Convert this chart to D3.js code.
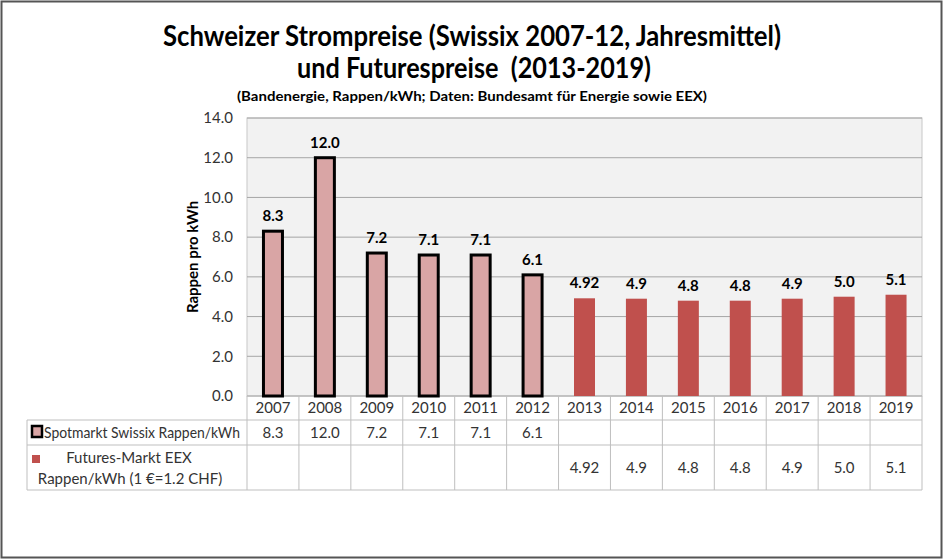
<!DOCTYPE html>
<html><head><meta charset="utf-8">
<script src="https://cdn.jsdelivr.net/npm/d3@7"></script>
<style>
html,body{margin:0;padding:0;background:#fff;}
text{font-family:Lato,"Open Sans",sans-serif;}
</style></head>
<body><svg id="c" width="944" height="560"></svg>
<script>
const years = ["2007","2008","2009","2010","2011","2012","2013","2014","2015","2016","2017","2018","2019"];
const spotValues = [8.3, 12.0, 7.2, 7.1, 7.1, 6.1, null, null, null, null, null, null, null];
const futuresValues = [null, null, null, null, null, null, 4.92, 4.9, 4.8, 4.8, 4.9, 5.0, 5.1];
const yTicks = [0, 2, 4, 6, 8, 10, 12, 14];
const titleLines = ["Schweizer Strompreise (Swissix 2007-12, Jahresmittel)", "und Futurespreise  (2013-2019)"];
const subtitle = "(Bandenergie, Rappen/kWh; Daten: Bundesamt für Energie sowie EEX)";
const yLabel = "Rappen pro kWh";
const seriesNames = ["Spotmarkt Swissix Rappen/kWh", ["Futures-Markt EEX", "Rappen/kWh (1 €=1.2 CHF)"]];

const fmt = v => (Math.round(v*10) === v*10 ? d3.format(".1f")(v) : d3.format(".2f")(v));
const svg = d3.select("#c");
const font = 'Lato,"Open Sans",sans-serif';

// outer frame
svg.append("rect").attr("x",1.5).attr("y",1.5).attr("width",940).attr("height",556)
  .attr("fill","#fff").attr("stroke","#555").attr("stroke-width",2);

const L = 247, R = 922, T = 118, B = 396;
const x = d3.scaleBand().domain(years).range([L, R]).paddingInner(0).paddingOuter(0);
const y = d3.scaleLinear().domain([0, 14]).range([B, T]);

// titles
svg.append("text").attr("x",472).attr("y",46).attr("text-anchor","middle")
  .attr("font-weight","bold").attr("font-size",28).attr("fill","#000")
  .attr("textLength",618).attr("lengthAdjust","spacingAndGlyphs").text(titleLines[0]);
svg.append("text").attr("x",474).attr("y",78).attr("text-anchor","middle")
  .attr("font-weight","bold").attr("font-size",28).attr("fill","#000").style("white-space","pre")
  .attr("textLength",354).attr("lengthAdjust","spacingAndGlyphs").text(titleLines[1]);
svg.append("text").attr("x",472).attr("y",101).attr("text-anchor","middle")
  .attr("font-weight","bold").attr("font-size",14).attr("fill","#000")
  .attr("textLength",470).attr("lengthAdjust","spacingAndGlyphs").text(subtitle);

// plot background
svg.append("rect").attr("x",L).attr("y",T).attr("width",R-L).attr("height",B-T)
  .attr("fill","#f2f2f2").attr("stroke","#c8c8c8");

// gridlines
svg.append("g").selectAll("line").data(yTicks).join("line")
  .attr("x1",L).attr("x2",R).attr("y1",d=>y(d)).attr("y2",d=>y(d))
  .attr("stroke","#a6a6a6").attr("stroke-width",1);

// y axis
const yAxis = d3.axisLeft(y).tickValues(yTicks).tickFormat(d3.format(".1f")).tickSize(0).tickPadding(14);
const ga = svg.append("g").attr("transform",`translate(${L},0)`).call(yAxis);
ga.select(".domain").remove();
ga.selectAll("text").attr("font-size",15).attr("fill","#333").style("font-family",font);

svg.append("text").attr("transform",`translate(198,${(T+B)/2}) rotate(-90)`)
  .attr("text-anchor","middle").attr("font-weight","bold").attr("font-size",15).attr("fill","#000")
  .text(yLabel);

const bw = 19;
// spot bars
const spotData = years.map((yr,i)=>({yr, v: spotValues[i]})).filter(d=>d.v!=null);
svg.append("g").selectAll("rect").data(spotData).join("rect")
  .attr("x",d=>x(d.yr)+x.bandwidth()/2-bw/2).attr("width",bw)
  .attr("y",d=>y(d.v)).attr("height",d=>y(0)-y(d.v))
  .attr("fill","#d9a5a5").attr("stroke","#000").attr("stroke-width",3);
const futData = years.map((yr,i)=>({yr, v: futuresValues[i]})).filter(d=>d.v!=null);
svg.append("g").selectAll("rect").data(futData).join("rect")
  .attr("x",d=>x(d.yr)+x.bandwidth()/2-21/2).attr("width",21)
  .attr("y",d=>y(d.v)).attr("height",d=>y(0)-y(d.v))
  .attr("fill","#c0504d");

// value labels
svg.append("g").selectAll("text").data(spotData.concat(futData)).join("text")
  .attr("x",d=>x(d.yr)+x.bandwidth()/2).attr("y",d=>y(d.v)-10)
  .attr("text-anchor","middle").attr("font-weight","bold").attr("font-size",15).attr("fill","#000")
  .text(d=>fmt(d.v));

// table
const gc = "#bfbfbf";
const tL = 27, r0 = B, r1 = 420, r2 = 445, r3 = 490;
const tg = svg.append("g");
tg.append("line").attr("x1",tL).attr("x2",R).attr("y1",r1).attr("y2",r1).attr("stroke",gc);
tg.append("line").attr("x1",tL).attr("x2",R).attr("y1",r2).attr("y2",r2).attr("stroke",gc);
tg.append("line").attr("x1",tL).attr("x2",R).attr("y1",r3).attr("y2",r3).attr("stroke",gc);
const vx = years.map(d=>x(d)).concat([R]);
tg.selectAll("line.v").data(vx).join("line").attr("class","v")
  .attr("x1",d=>d).attr("x2",d=>d).attr("y1",r0).attr("y2",r3).attr("stroke",gc);
tg.append("line").attr("x1",tL).attr("x2",tL).attr("y1",r1).attr("y2",r3).attr("stroke",gc);

tg.selectAll("text.yr").data(years).join("text").attr("class","yr")
  .attr("x",d=>x(d)+x.bandwidth()/2).attr("y",413).attr("text-anchor","middle")
  .attr("font-size",15).attr("fill","#333").text(d=>d);
tg.selectAll("text.sv").data(spotData).join("text").attr("class","sv")
  .attr("x",d=>x(d.yr)+x.bandwidth()/2).attr("y",438).attr("text-anchor","middle")
  .attr("font-size",15).attr("fill","#333").text(d=>fmt(d.v));
tg.selectAll("text.fv").data(futData).join("text").attr("class","fv")
  .attr("x",d=>x(d.yr)+x.bandwidth()/2).attr("y",473).attr("text-anchor","middle")
  .attr("font-size",15).attr("fill","#333").text(d=>fmt(d.v));

tg.append("rect").attr("x",32).attr("y",426).attr("width",10).attr("height",11)
  .attr("fill","#d9a5a5").attr("stroke","#000").attr("stroke-width",2.5);
tg.append("text").attr("x",44).attr("y",438).attr("font-size",15).attr("fill","#333")
  .attr("textLength",196).attr("lengthAdjust","spacingAndGlyphs").text(seriesNames[0]);
tg.append("rect").attr("x",32).attr("y",455).attr("width",8).attr("height",8).attr("fill","#c0504d");
tg.append("text").attr("x",129).attr("y",463).attr("text-anchor","middle").attr("font-size",15).attr("fill","#333")
  .text(seriesNames[1][0]);
tg.append("text").attr("x",130).attr("y",484).attr("text-anchor","middle").attr("font-size",15).attr("fill","#333")
  .text(seriesNames[1][1]);
</script></body></html>
